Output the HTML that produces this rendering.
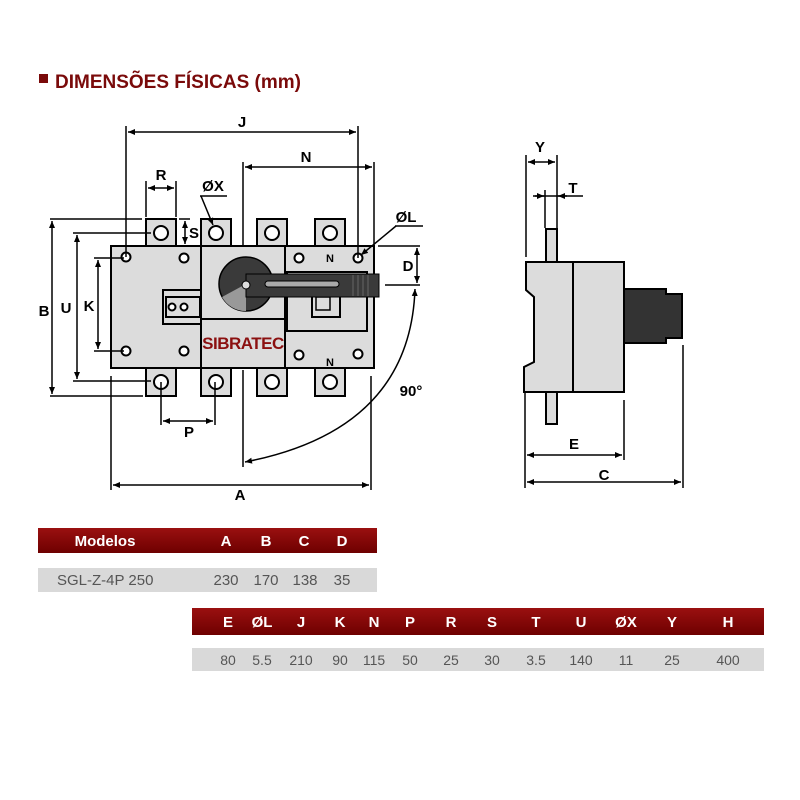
<!DOCTYPE html>
<html><head><meta charset="utf-8"><style>
html,body{margin:0;padding:0;background:#fff;}
svg{display:block;font-family:"Liberation Sans",Arial,sans-serif;}
</style></head><body>
<svg width="800" height="800" viewBox="0 0 800 800" xmlns="http://www.w3.org/2000/svg">
<defs>
<marker id="ar" markerWidth="8" markerHeight="8" refX="7" refY="4" orient="auto-start-reverse" markerUnits="userSpaceOnUse"><path d="M0,1 L7,4 L0,7 z" fill="#000"/></marker>
<linearGradient id="hd" x1="0" y1="0" x2="0" y2="1"><stop offset="0" stop-color="#9a1010"/><stop offset="1" stop-color="#6e0000"/></linearGradient>
</defs>
<!-- title -->
<rect x="39" y="74" width="9" height="9" fill="#7a0a0a"/>
<text x="55" y="88" font-size="19" font-weight="bold" fill="#7a0a0a">DIMENSÕES FÍSICAS (mm)</text>

<g stroke="#000" stroke-width="2" fill="#dcdcdc">
<!-- terminals -->
<rect x="146" y="219" width="30" height="27"/><rect x="201" y="219" width="30" height="27"/>
<rect x="257" y="219" width="30" height="27"/><rect x="315" y="219" width="30" height="27"/>
<rect x="146" y="368" width="30" height="28"/><rect x="201" y="368" width="30" height="28"/>
<rect x="257" y="368" width="30" height="28"/><rect x="315" y="368" width="30" height="28"/>
<!-- body -->
<rect x="111" y="246" width="263" height="122"/>
<line x1="201" y1="246" x2="201" y2="368"/><line x1="285" y1="246" x2="285" y2="368"/>
<line x1="201" y1="319" x2="285" y2="319"/>
<rect x="287" y="272" width="80" height="59" fill="none"/>
<rect x="163" y="290" width="38" height="34"/>
<rect x="166" y="297" width="34" height="20" fill="none"/>
<rect x="312" y="293" width="28" height="24" fill="none"/>
<rect x="316" y="297" width="14" height="13" fill="none" stroke-width="1.5"/>
</g>
<g fill="#fff" stroke="#000" stroke-width="2">
<circle cx="161" cy="233" r="7"/><circle cx="216" cy="233" r="7"/><circle cx="272" cy="233" r="7"/><circle cx="330" cy="233" r="7"/>
<circle cx="161" cy="382" r="7"/><circle cx="216" cy="382" r="7"/><circle cx="272" cy="382" r="7"/><circle cx="330" cy="382" r="7"/>
<circle cx="126" cy="257" r="4.5"/><circle cx="184" cy="258" r="4.5"/><circle cx="126" cy="351" r="4.5"/><circle cx="184" cy="351" r="4.5"/>
<circle cx="299" cy="258" r="4.5"/><circle cx="358" cy="258" r="4.5"/><circle cx="299" cy="355" r="4.5"/><circle cx="358" cy="354" r="4.5"/>
<circle cx="172" cy="307" r="3.5"/><circle cx="184" cy="307" r="3.5"/>
</g>
<text x="330" y="262" font-size="11" font-weight="bold" text-anchor="middle">N</text>
<text x="330" y="366" font-size="11" font-weight="bold" text-anchor="middle">N</text>
<!-- knob -->
<circle cx="246" cy="284" r="27" fill="#3a3a3a" stroke="#000" stroke-width="1.5"/>
<path d="M246,284 L246,311 A27,27 0 0 1 222,297 z" fill="#999"/>
<rect x="246" y="274" width="133" height="23" fill="#3a3a3a" stroke="#000" stroke-width="1"/>
<rect x="265" y="281" width="74" height="6" rx="3" fill="#aaa" stroke="#000" stroke-width="1"/>
<circle cx="246" cy="285" r="4" fill="#ddd" stroke="#000"/>
<g stroke="#666" stroke-width="1"><line x1="353" y1="275" x2="353" y2="296"/><line x1="358" y1="275" x2="358" y2="296"/><line x1="363" y1="275" x2="363" y2="296"/><line x1="368" y1="275" x2="368" y2="296"/></g>
<text x="243" y="349" font-size="17" fill="#8b1010" text-anchor="middle" font-weight="bold" letter-spacing="-0.5">SIBRATEC</text>

<!-- dimension lines front -->
<g stroke="#000" stroke-width="1.5" fill="none">
<line x1="126" y1="126" x2="126" y2="257"/><line x1="358" y1="126" x2="358" y2="258"/>
<line x1="128" y1="132" x2="356" y2="132" marker-start="url(#ar)" marker-end="url(#ar)"/>
<line x1="243" y1="162" x2="243" y2="246"/><line x1="374" y1="162" x2="374" y2="246"/>
<line x1="245" y1="167" x2="372" y2="167" marker-start="url(#ar)" marker-end="url(#ar)"/>
<line x1="146" y1="181" x2="146" y2="217"/><line x1="176" y1="181" x2="176" y2="217"/>
<line x1="148" y1="188" x2="174" y2="188" marker-start="url(#ar)" marker-end="url(#ar)"/>
<line x1="200" y1="196" x2="227" y2="196"/><line x1="201" y1="196" x2="213" y2="225" marker-end="url(#ar)"/>
<line x1="179" y1="219" x2="190" y2="219"/>
<line x1="185" y1="221" x2="185" y2="244" marker-start="url(#ar)" marker-end="url(#ar)"/>
<line x1="395" y1="226" x2="423" y2="226"/><line x1="396" y1="226" x2="361" y2="255" marker-end="url(#ar)"/>
<line x1="378" y1="246" x2="420" y2="246"/><line x1="385" y1="285" x2="420" y2="285"/>
<line x1="417" y1="248" x2="417" y2="283" marker-start="url(#ar)" marker-end="url(#ar)"/>
<line x1="50" y1="219" x2="142" y2="219"/><line x1="50" y1="396" x2="143" y2="396"/>
<line x1="52" y1="221" x2="52" y2="394" marker-start="url(#ar)" marker-end="url(#ar)"/>
<line x1="73" y1="233" x2="151" y2="233"/><line x1="73" y1="381" x2="151" y2="381"/>
<line x1="77" y1="235" x2="77" y2="379" marker-start="url(#ar)" marker-end="url(#ar)"/>
<line x1="94" y1="258" x2="124" y2="258"/><line x1="94" y1="351" x2="124" y2="351"/>
<line x1="98" y1="260" x2="98" y2="349" marker-start="url(#ar)" marker-end="url(#ar)"/>
<line x1="161" y1="382" x2="161" y2="425"/><line x1="215" y1="382" x2="215" y2="425"/>
<line x1="163" y1="421" x2="213" y2="421" marker-start="url(#ar)" marker-end="url(#ar)"/>
<line x1="111" y1="376" x2="111" y2="490"/><line x1="371" y1="376" x2="371" y2="490"/>
<line x1="113" y1="485" x2="369" y2="485" marker-start="url(#ar)" marker-end="url(#ar)"/>
<line x1="243" y1="370" x2="243" y2="467"/>
<path d="M415,289 Q410,430 245,462" marker-start="url(#ar)" marker-end="url(#ar)"/>
</g>
<g font-size="15" font-weight="bold" text-anchor="middle">
<text x="242" y="127">J</text><text x="306" y="162">N</text><text x="161" y="180">R</text>
<text x="213" y="191">ØX</text><text x="194" y="238">S</text><text x="406" y="222">ØL</text>
<text x="408" y="271">D</text><text x="44" y="316">B</text><text x="66" y="313">U</text><text x="89" y="311">K</text>
<text x="189" y="437">P</text><text x="240" y="500">A</text><text x="411" y="396">90°</text>
</g>

<!-- side view -->
<g stroke="#000" stroke-width="2" fill="#dcdcdc">
<rect x="546" y="229" width="11" height="33"/><rect x="546" y="392" width="11" height="32"/>
<path d="M526,262 L573,262 L573,392 L524,392 L524,367 L534,362 L534,297 L526,290 z"/>
<rect x="573" y="262" width="51" height="130"/>
<path d="M624,289 L666,289 L666,294 L682,294 L682,338 L666,338 L666,343 L624,343 z" fill="#333"/>
</g>
<g stroke="#000" stroke-width="1.5" fill="none">
<line x1="526" y1="155" x2="526" y2="257"/><line x1="557" y1="155" x2="557" y2="229"/>
<line x1="528" y1="162" x2="555" y2="162" marker-start="url(#ar)" marker-end="url(#ar)"/>
<line x1="545" y1="190" x2="545" y2="228"/>
<line x1="533" y1="196" x2="583" y2="196"/>
<line x1="535" y1="196" x2="544" y2="196" marker-end="url(#ar)"/>
<line x1="567" y1="196" x2="558" y2="196" marker-end="url(#ar)"/>
<line x1="525" y1="392" x2="525" y2="488"/><line x1="624" y1="400" x2="624" y2="460"/><line x1="683" y1="345" x2="683" y2="488"/>
<line x1="527" y1="455" x2="622" y2="455" marker-start="url(#ar)" marker-end="url(#ar)"/>
<line x1="527" y1="482" x2="681" y2="482" marker-start="url(#ar)" marker-end="url(#ar)"/>
</g>
<g font-size="15" font-weight="bold" text-anchor="middle">
<text x="540" y="152">Y</text><text x="573" y="193">T</text><text x="574" y="449">E</text><text x="604" y="480">C</text>
</g>

<!-- tables -->
<rect x="38" y="528" width="339" height="25" fill="url(#hd)"/>
<g font-size="15" font-weight="bold" fill="#fff" text-anchor="middle">
<text x="105" y="546">Modelos</text><text x="226" y="546">A</text><text x="266" y="546">B</text><text x="304" y="546">C</text><text x="342" y="546">D</text>
</g>
<rect x="38" y="568" width="339" height="24" fill="#d9d9d9"/>
<g font-size="15" fill="#555" text-anchor="middle">
<text x="57" y="585" text-anchor="start">SGL-Z-4P 250</text><text x="226" y="585">230</text><text x="266" y="585">170</text><text x="305" y="585">138</text><text x="342" y="585">35</text>
</g>
<rect x="192" y="608" width="572" height="27" fill="url(#hd)"/>
<g font-size="15" font-weight="bold" fill="#fff" text-anchor="middle">
<text x="228" y="627">E</text><text x="262" y="627">ØL</text><text x="301" y="627">J</text><text x="340" y="627">K</text><text x="374" y="627">N</text><text x="410" y="627">P</text><text x="451" y="627">R</text><text x="492" y="627">S</text><text x="536" y="627">T</text><text x="581" y="627">U</text><text x="626" y="627">ØX</text><text x="672" y="627">Y</text><text x="728" y="627">H</text>
</g>
<rect x="192" y="648" width="572" height="23" fill="#d9d9d9"/>
<g font-size="14" fill="#555" text-anchor="middle">
<text x="228" y="665">80</text><text x="262" y="665">5.5</text><text x="301" y="665">210</text><text x="340" y="665">90</text><text x="374" y="665">115</text><text x="410" y="665">50</text><text x="451" y="665">25</text><text x="492" y="665">30</text><text x="536" y="665">3.5</text><text x="581" y="665">140</text><text x="626" y="665">11</text><text x="672" y="665">25</text><text x="728" y="665">400</text>
</g>
</svg>
</body></html>
